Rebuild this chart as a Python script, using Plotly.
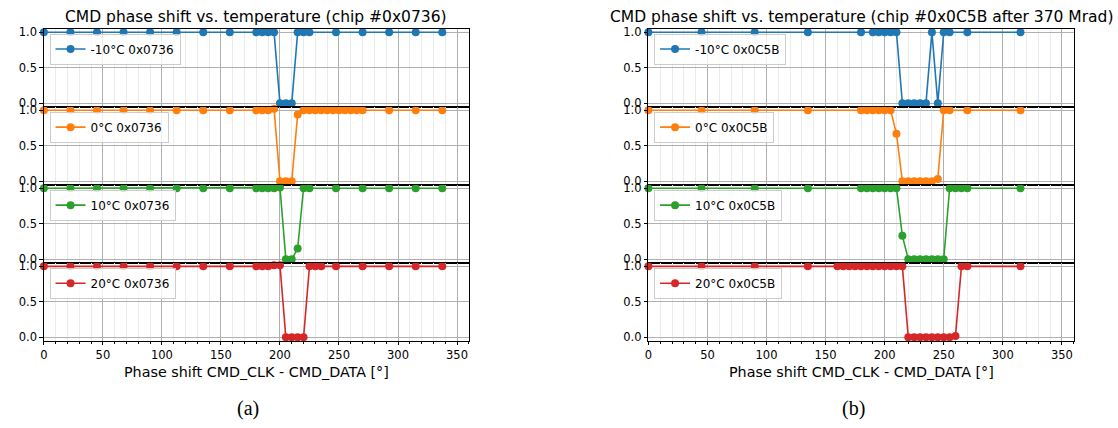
import plotly.graph_objects as go

# ---------------- data ----------------
titles = ["CMD phase shift vs. temperature (chip #0x0736)",
          "CMD phase shift vs. temperature (chip #0x0C5B after 370 Mrad)"]
x_label = "Phase shift CMD_CLK - CMD_DATA [°]"
panel_tags = ["(a)", "(b)"]
temps = ["-10°C", "0°C", "10°C", "20°C"]
chips = ["0x0736", "0x0C5B"]
colors = ["#1f77b4", "#ff7f0e", "#2ca02c", "#d62728"]
x_ticks = [0, 50, 100, 150, 200, 250, 300, 350]
y_ticks = [0.0, 0.5, 1.0]

# chip 0x0736
a_m10_x = [0, 22.5, 45, 67.5, 90, 112.5, 135, 157.5, 180, 185, 190, 195, 200, 205, 210,
           215, 220, 225, 247.5, 270, 292.5, 315, 337.5]
a_m10_y = [1, 1, 1, 1, 1, 1, 1, 1, 1, 1, 1, 1, 0, 0, 0,
           1, 1, 1, 1, 1, 1, 1, 1]
a_0_x = [0, 22.5, 45, 67.5, 90, 112.5, 135, 157.5, 180, 185, 190, 195, 200, 205, 210,
         215, 220, 225, 230, 235, 240, 245, 250, 255, 260, 265, 270, 292.5, 315, 337.5]
a_0_y = [1, 1, 1, 1, 1, 1, 1, 1, 1, 1, 1, 1.02, 0, 0, 0,
         0.94, 1, 1, 1, 1, 1, 1, 1, 1, 1, 1, 1, 1, 1, 1]
a_10_x = [0, 22.5, 45, 67.5, 90, 112.5, 135, 157.5, 180, 185, 190, 195, 200, 205, 210,
          215, 220, 225, 247.5, 270, 292.5, 315, 337.5]
a_10_y = [1, 1, 1, 1, 1, 1, 1, 1, 1, 1, 1, 1, 1.01, 0, 0,
          0.15, 1, 1, 1, 1, 1, 1, 1]
a_20_x = [0, 22.5, 45, 67.5, 90, 112.5, 135, 157.5, 180, 185, 190, 195, 200, 205, 210,
          215, 220, 225, 230, 235, 247.5, 270, 292.5, 315, 337.5]
a_20_y = [1, 1, 1, 1, 1, 1, 1, 1, 1, 1, 1, 1.015, 1.015, 0, 0,
          0, 0, 1, 1, 1, 1, 1, 1, 1, 1]

# chip 0x0C5B after 370 Mrad
b_m10_x = [0, 45, 90, 135, 180, 190, 195, 200, 205, 210, 215, 220, 225, 230, 235,
           240, 245, 250, 255, 270, 315]
b_m10_y = [1, 1, 1, 1, 1, 1, 1, 1, 1, 1, 0, 0, 0, 0, 0,
           1, 0, 1, 1, 1, 1]
b_0_x = [0, 45, 90, 135, 180, 185, 190, 195, 200, 205, 210, 215, 220, 225, 230, 235,
         240, 245, 250, 255, 270, 315]
b_0_y = [1, 1, 1, 1, 1, 1, 1, 1, 1, 1, 0.67, 0, 0, 0, 0, 0,
         0, 0.03, 1, 1, 1, 1]
b_10_x = [0, 45, 90, 135, 180, 185, 190, 195, 200, 205, 210, 215, 220, 225, 230, 235,
          240, 245, 250, 255, 260, 265, 270, 315]
b_10_y = [1, 1, 1, 1, 1, 1, 1, 1, 1, 1, 1, 0.33, 0, 0, 0, 0,
          0, 0, 0, 1, 1, 1, 1, 1]
b_20_x = [0, 45, 90, 135, 160, 165, 170, 175, 180, 185, 190, 195, 200, 205, 210, 215,
          220, 225, 230, 235, 240, 245, 250, 255, 260, 265, 270, 315]
b_20_y = [1, 1, 1, 1, 1, 1, 1, 1, 1, 1, 1, 1, 1, 1, 1, 1,
          0, 0, 0, 0, 0, 0, 0, 0, 0.02, 1, 1, 1]

series = [
    [(a_m10_x, a_m10_y), (a_0_x, a_0_y), (a_10_x, a_10_y), (a_20_x, a_20_y)],
    [(b_m10_x, b_m10_y), (b_0_x, b_0_y), (b_10_x, b_10_y), (b_20_x, b_20_y)],
]

# ---------------- layout geometry ----------------
W, H = 1118, 428
col_px = [(40.0, 466.5), (646.7, 1073.5)]
row_px = [26.0, 105.2, 184.3, 263.5, 342.7]
FONT = "DejaVu Sans"

def px2x(p):
    return p / W

def px2y(p):
    return 1 - p / H

fig = go.Figure()
layout = dict(
    width=W, height=H,
    margin=dict(l=0, r=0, t=0, b=0),
    paper_bgcolor="white", plot_bgcolor="white",
    font=dict(family=FONT, size=11.5, color="black"),
    showlegend=True,
)
annotations = []

for c in range(2):
    x0, x1 = col_px[c]
    for r in range(4):
        k = c * 4 + r + 1
        xs, ys = series[c][r]
        legname = "legend" if k == 1 else f"legend{k}"
        fig.add_trace(go.Scatter(
            x=xs, y=ys, mode="lines+markers",
            name=f"{temps[r]} {chips[c]}",
            line=dict(color=colors[r], width=1.6),
            marker=dict(color=colors[r], size=8),
            xaxis=f"x{k}", yaxis=f"y{k}",
            legend=legname, cliponaxis=False,
        ))
        bottom = (r == 3)
        xa = dict(
            domain=[px2x(x0), px2x(x1)], anchor=f"y{k}",
            range=[0, 360], tickvals=x_ticks,
            showticklabels=bottom,
            ticks="outside" if bottom else "", ticklen=3.5, tickcolor="black",
            showgrid=True, gridcolor="#b0b0b0", gridwidth=1,
            showline=True, linecolor="black", linewidth=1, mirror=True,
            zeroline=False,
            tickfont=dict(family=FONT, size=11.5, color="black"),
            minor=dict(dtick=10, tick0=0, showgrid=True, gridcolor="#ebebeb", gridwidth=1,
                       ticks="outside" if bottom else "", ticklen=2, tickcolor="black"),
        )
        if k not in (1, 5):
            xa["matches"] = "x1" if c == 0 else "x5"
        ya = dict(
            domain=[px2y(row_px[r + 1]), px2y(row_px[r])], anchor=f"x{k}",
            range=[-0.05, 1.05], tickvals=y_ticks, tickformat=".1f",
            ticks="outside", ticklen=3.5, tickcolor="black",
            showgrid=True, gridcolor="#b0b0b0", gridwidth=1,
            showline=True, linecolor="black", linewidth=1, mirror=True,
            zeroline=False,
            tickfont=dict(family=FONT, size=11.5, color="black"),
        )
        layout[f"xaxis{k}"] = xa
        layout[f"yaxis{k}"] = ya
        layout[legname] = dict(
            x=px2x(x0 + 5.7), y=px2y(row_px[r] + 5.0),
            xanchor="left", yanchor="top",
            bgcolor="rgba(255,255,255,0.8)", bordercolor="#cccccc", borderwidth=1,
            font=dict(family=FONT, size=12, color="black"),
            itemwidth=30, tracegroupgap=0,
        )
    cx = px2x((x0 + x1) / 2)
    annotations.append(dict(text=titles[c], x=cx, y=px2y(14), xref="paper", yref="paper",
                            xanchor="center", yanchor="middle", showarrow=False,
                            font=dict(family=FONT, size=15.5, color="black")))
    annotations.append(dict(text=x_label, x=cx, y=px2y(374.5), xref="paper", yref="paper",
                            xanchor="center", yanchor="middle", showarrow=False,
                            font=dict(family=FONT, size=14.3, color="black")))
    annotations.append(dict(text=panel_tags[c], x=cx - px2x(8), y=px2y(411), xref="paper", yref="paper",
                            xanchor="center", yanchor="middle", showarrow=False,
                            font=dict(family="Liberation Serif", size=20, color="black")))

layout["annotations"] = annotations
fig.update_layout(**layout)
fig.write_html("out.html",
               config={"displayModeBar": False},
               post_script="document.body.style.margin='0';document.body.style.padding='0';")
